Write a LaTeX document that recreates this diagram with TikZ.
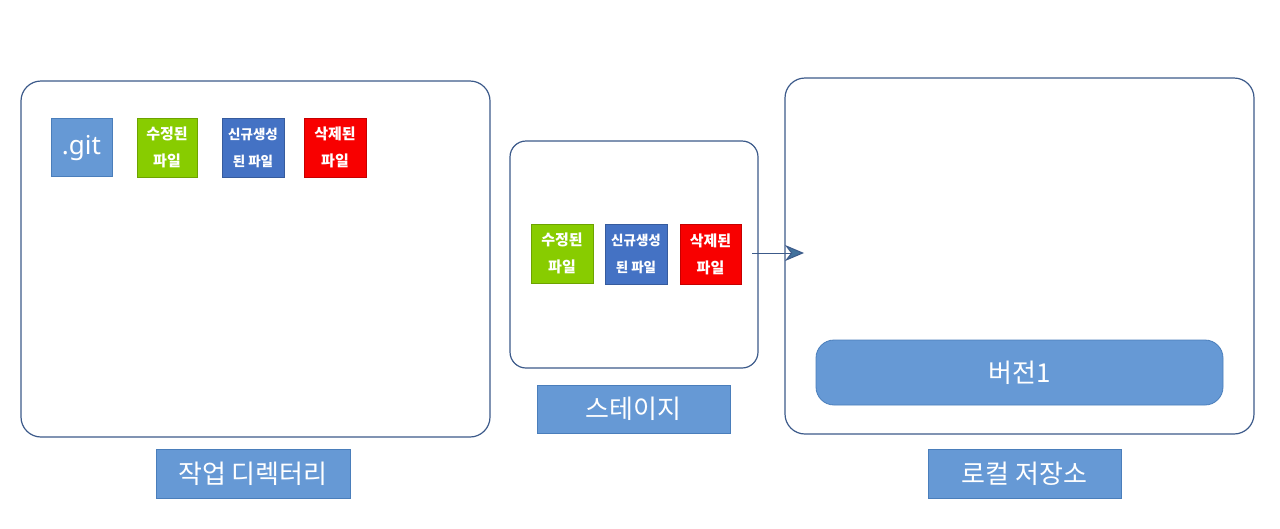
\documentclass[tikz,border=0pt]{standalone}
\usepackage{fontspec}
\setmainfont{Noto Sans CJK KR}
\newfontfamily\kr{Noto Sans CJK KR}
\usetikzlibrary{arrows.meta}
\definecolor{lblue}{HTML}{6699D5}
\definecolor{lborder}{HTML}{4A7EBB}
\definecolor{frame}{HTML}{3C5A8A}
\definecolor{fgreen}{HTML}{88CC00}
\definecolor{fblue}{HTML}{4472C4}
\definecolor{fred}{HTML}{F80000}
\definecolor{tipblue}{HTML}{41719C}
\tikzset{
  panel/.style={draw=frame, line width=1.2pt, fill=white, rounded corners=#1},
  caption/.style={draw=lborder, line width=0.8pt, fill=lblue},
  captext/.style={text=white, font=\kr\fontsize{26}{30}\selectfont},
  filebox/.style={line width=0.6pt, text=white, align=center, font=\kr\bfseries\fontsize{15}{27}\selectfont},
  smallfile/.style={filebox, font=\kr\bfseries\fontsize{13.5}{27}\selectfont},
}
\begin{document}
\begin{tikzpicture}[x=1pt,y=-1pt]
\useasboundingbox (0,0) rectangle (1280,528);
% panels
\draw[panel=20pt] (21,81) rectangle (490,437);
\draw[panel=16pt] (510,141) rectangle (758,368);
\draw[panel=20pt] (785,78) rectangle (1254,434);
\node (wd) at (253,266) {};
\node (st) at (634,254) {};
\node (lr) at (1019,256) {};
% working dir files
\draw[draw=lborder, fill=lblue, line width=0.8pt] (51,118) rectangle (112,176);
\node[text=white, font=\fontspec{Noto Sans}\fontsize{26}{30}\selectfont] (git) at (81.5,148) {.git};
\draw[draw=fgreen!80!black, fill=fgreen] (137,118) rectangle (197,177);
\node[filebox] (m1) at (167,147.5) {수정된\\파일};
\draw[draw=fblue!80!black, fill=fblue] (222,118) rectangle (284,177);
\node[smallfile] (n1) at (253,147.5) {신규생성\\된 파일};
\draw[draw=fred!80!black, fill=fred] (304,118) rectangle (366,177);
\node[filebox] (d1) at (335,147.5) {삭제된\\파일};
% staged files
\draw[draw=fgreen!80!black, fill=fgreen] (531,224) rectangle (593,283);
\node[filebox] (m2) at (562,253.5) {수정된\\파일};
\draw[draw=fblue!80!black, fill=fblue] (605,224) rectangle (667,284);
\node[smallfile] (n2) at (636,254) {신규생성\\된 파일};
\draw[draw=fred!80!black, fill=fred] (680,224) rectangle (741,284);
\node[filebox] (d2) at (710.5,254) {삭제된\\파일};
% arrow
\coordinate (as) at (752,253);
\coordinate (ae) at (804,253);
\draw[draw=frame, line width=1pt, -{Stealth[length=19pt,width=16pt,inset=6pt,fill=tipblue]}] (as) -- (ae);
% version
\draw[draw=lborder, fill=lblue, line width=0.8pt, rounded corners=18pt] (816,340) rectangle (1223,405);
\node[captext] (v1) at (1019.5,372.5) {버전1};
% captions
\draw[caption] (156,449) rectangle (350,498);
\node[captext] (c1) at (253,473.5) {작업 디렉터리};
\draw[caption] (537,385) rectangle (730,433);
\node[captext] (c2) at (633.5,409) {스테이지};
\draw[caption] (928,449) rectangle (1121,498);
\node[captext] (c3) at (1024.5,473.5) {로컬 저장소};
\end{tikzpicture}
\end{document}
